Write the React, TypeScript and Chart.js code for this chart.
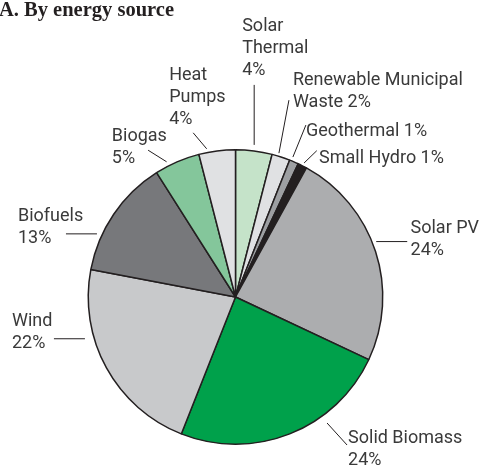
import React, { useEffect, useRef } from "react";
import { Chart, registerables } from "chart.js";

Chart.register(...registerables);

// ---- data ----
const sources = [
  "Solar Thermal",
  "Renewable Municipal Waste",
  "Geothermal",
  "Small Hydro",
  "Solar PV",
  "Solid Biomass",
  "Wind",
  "Biofuels",
  "Biogas",
  "Heat Pumps",
];
const shares = [4, 2, 1, 1, 24, 24, 22, 13, 5, 4];
// label text templates ({p} = share)
const labelTexts = [
  "Solar\nThermal\n{p}%",
  "Renewable Municipal\nWaste {p}%",
  "Geothermal {p}%",
  "Small Hydro {p}%",
  "Solar PV\n{p}%",
  "Solid Biomass\n{p}%",
  "Wind\n{p}%",
  "Biofuels\n{p}%",
  "Biogas\n{p}%",
  "Heat\nPumps\n{p}%",
];
const sliceColors = [
  "#c5e3c9",
  "#e0e1e3",
  "#9d9fa2",
  "#231f20",
  "#acadaf",
  "#00a14b",
  "#c8c9cb",
  "#77787b",
  "#84c69b",
  "#e0e1e3",
];
const titleText = "A. By energy source";

// ---- annotation layout (leader lines): angle from top (deg), gap beyond rim, leader vector, text offset ----
const leaderAngle = [7, 16.8, 22.3, 27.1, 68.5, 144, 254.5, 294.5, 333, 349];
const leaderGap = [6, 3, 4, 3.3, 4, 8.5, 9, 5, 4.5, 3.7];
const leaderDx = [0, 10, 13, 12.7, 31, 20, -31, -31, -18.5, -13.5];
const leaderDy = [-60, -53, -32, -12.3, 0, 22, 0, 0, -11.6, -16];
const textDx = [-12, 4, 0, 2.3, 3.3, 1, -42, -48, -36.3, -24];
const textDy = [-54.3, -15, 11, 12.3, -8.4, -2, -12.3, -13.3, -9, -52.7];

const LABEL_FONT = '18px Roboto, "Liberation Sans", Arial, sans-serif';
const LINE_H = 22;

const labelPlugin = {
  id: "leaderLabels",
  afterDraw(chart: any) {
    const meta = chart.getDatasetMeta(0);
    const arc = meta.data[0];
    if (!arc) return;
    const cx = arc.x;
    const cy = arc.y;
    const R = arc.outerRadius;
    const ctx = chart.ctx;
    ctx.save();
    // title
    ctx.fillStyle = "#231f20";
    ctx.font = 'bold 20.5px "Liberation Serif", "Times New Roman", serif';
    ctx.textBaseline = "alphabetic";
    ctx.textAlign = "left";
    ctx.fillText(titleText, -1, 16);

    ctx.font = LABEL_FONT;
    for (let i = 0; i < sources.length; i++) {
      const a = (leaderAngle[i] * Math.PI) / 180;
      const r = R + leaderGap[i];
      const x1 = cx + r * Math.sin(a);
      const y1 = cy - r * Math.cos(a);
      const x2 = x1 + leaderDx[i];
      const y2 = y1 + leaderDy[i];
      ctx.strokeStyle = "#231f20";
      ctx.lineWidth = 1;
      ctx.beginPath();
      ctx.moveTo(x1, y1);
      ctx.lineTo(x2, y2);
      ctx.stroke();
      const lines = labelTexts[i].replace("{p}", String(shares[i])).split("\n");
      ctx.fillStyle = "#3a3a3a";
      lines.forEach((ln, k) => {
        ctx.fillText(ln, x2 + textDx[i], y2 + textDy[i] + k * LINE_H);
      });
    }
    ctx.restore();
  },
};

export default function App() {
  const ref = useRef<HTMLCanvasElement | null>(null);
  useEffect(() => {
    if (!ref.current) return;
    const chart = new Chart(ref.current, {
      type: "pie",
      data: {
        labels: sources,
        datasets: [
          {
            data: shares,
            backgroundColor: sliceColors,
            borderColor: "#231f20",
            borderWidth: 1.5,
          },
        ],
      },
      options: {
        responsive: false,
        animation: false,
        events: [],
        layout: { padding: { left: 87.5, right: 96.5, top: 149, bottom: 21 } },
        plugins: {
          legend: { display: false },
          tooltip: { enabled: false },
          title: { display: false },
        },
      },
      plugins: [labelPlugin],
    });
    return () => chart.destroy();
  }, []);
  return (
    <div style={{ position: "fixed", left: 0, top: 0, width: 480, height: 466, background: "#fff" }}>
      <canvas ref={ref} width={480} height={466} style={{ display: "block" }} />
    </div>
  );
}
